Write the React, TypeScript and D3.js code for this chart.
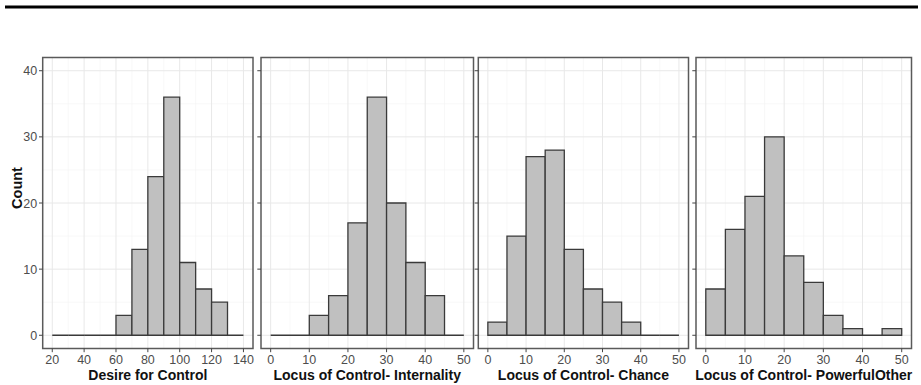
import React from "react";
import * as d3 from "d3";

// histogram counts per bin
const dfcCounts = [0, 0, 0, 0, 3, 13, 24, 36, 11, 7, 5, 0];
const internalityCounts = [0, 0, 3, 6, 17, 36, 20, 11, 6, 0];
const chanceCounts = [2, 15, 27, 28, 13, 7, 5, 2, 0, 0];
const powerfulCounts = [7, 16, 21, 30, 12, 8, 3, 1, 0, 1];

const dfcTicks = [20, 40, 60, 80, 100, 120, 140];
const locTicks = [0, 10, 20, 30, 40, 50];
const countTicks = [0, 10, 20, 30, 40];

const panels = [
  { title: "Desire for Control", counts: dfcCounts, start: 20, binWidth: 10, ticks: dfcTicks, x0: 42.7, x1: 253 },
  { title: "Locus of Control- Internality", counts: internalityCounts, start: 0, binWidth: 5, ticks: locTicks, x0: 261, x1: 473.5 },
  { title: "Locus of Control- Chance", counts: chanceCounts, start: 0, binWidth: 5, ticks: locTicks, x0: 478.3, x1: 688.5 },
  { title: "Locus of Control- PowerfulOther", counts: powerfulCounts, start: 0, binWidth: 5, ticks: locTicks, x0: 696, x1: 911.5 },
];

const top = 57.5;
const bottom = 348.5;

function Panel({ p, idx }: { p: any; idx: number }) {
  const lo = p.ticks[0];
  const hi = p.ticks[p.ticks.length - 1];
  const pad = (hi - lo) * 0.05;
  const x = d3.scaleLinear().domain([lo - pad, hi + pad]).range([p.x0, p.x1]);
  const y = d3.scaleLinear().domain([-2, 42]).range([bottom, top]);

  const minorX = p.ticks.slice(0, -1).map((t: number, i: number) => (t + p.ticks[i + 1]) / 2);
  const minorY = countTicks.slice(0, -1).map((t, i) => (t + countTicks[i + 1]) / 2);

  const bins = p.counts.map((c: number, i: number) => ({
    a: p.start + i * p.binWidth,
    b: p.start + (i + 1) * p.binWidth,
    c,
  }));

  return (
    <g>
      <rect x={p.x0} y={top} width={p.x1 - p.x0} height={bottom - top} fill="#fff" />
      {minorX.map((t: number) => (
        <line key={"mx" + t} x1={x(t)} x2={x(t)} y1={top} y2={bottom} stroke="#f3f3f3" strokeWidth={0.6} />
      ))}
      {minorY.map((t) => (
        <line key={"my" + t} x1={p.x0} x2={p.x1} y1={y(t)} y2={y(t)} stroke="#f3f3f3" strokeWidth={0.6} />
      ))}
      {p.ticks.map((t: number) => (
        <line key={"gx" + t} x1={x(t)} x2={x(t)} y1={top} y2={bottom} stroke="#e8e8e8" strokeWidth={1} />
      ))}
      {countTicks.map((t) => (
        <line key={"gy" + t} x1={p.x0} x2={p.x1} y1={y(t)} y2={y(t)} stroke="#e8e8e8" strokeWidth={1} />
      ))}
      {bins.map((d: any, i: number) => {
        const path = d3.path();
        path.moveTo(x(d.a), y(0));
        path.lineTo(x(d.a), y(d.c));
        path.lineTo(x(d.b), y(d.c));
        path.lineTo(x(d.b), y(0));
        path.closePath();
        return (
          <path key={i} d={path.toString()} fill="#c0c0c0" stroke="#3a3a3a" strokeWidth={1.3} />
        );
      })}
      <rect x={p.x0} y={top} width={p.x1 - p.x0} height={bottom - top} fill="none" stroke="#5a5a5a" strokeWidth={1.5} />
      {countTicks.map((t) => (
        <line key={"ty" + t} x1={p.x0 - 3.7} x2={p.x0} y1={y(t)} y2={y(t)} stroke="#444" strokeWidth={1} />
      ))}
      {idx === 0 &&
        countTicks.map((t) => (
          <text key={"ly" + t} x={p.x0 - 5.5} y={y(t) + 4.5} textAnchor="end" fontSize={12.5} fill="#4d4d4d">
            {t}
          </text>
        ))}
      {p.ticks.map((t: number) => (
        <g key={"tx" + t}>
          <line x1={x(t)} x2={x(t)} y1={bottom} y2={bottom + 3.7} stroke="#444" strokeWidth={1} />
          <text x={x(t)} y={363.5} textAnchor="middle" fontSize={12.5} fill="#4d4d4d">
            {t}
          </text>
        </g>
      ))}
      <text x={(p.x0 + p.x1) / 2} y={379.5} textAnchor="middle" fontSize={14} fontWeight="bold" fill="#111">
        {p.title}
      </text>
    </g>
  );
}

export default function App() {
  return (
    <svg
      width={921}
      height={385}
      style={{ position: "absolute", left: 0, top: 0, background: "#fff" }}
      fontFamily="'Liberation Sans', Arial, sans-serif"
    >
      <rect x={0} y={0} width={921} height={385} fill="#fff" />
      <rect x={5} y={5.5} width={913} height={3} fill="#000" />
      {panels.map((p, i) => (
        <Panel key={p.title} p={p} idx={i} />
      ))}
      <text
        transform="translate(21.5,188) rotate(-90)"
        textAnchor="middle"
        fontSize={14.5}
        fontWeight="bold"
        fill="#111"
      >
        Count
      </text>
    </svg>
  );
}
